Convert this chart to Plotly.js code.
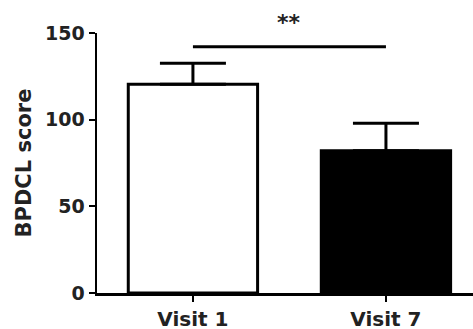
<!DOCTYPE html>
<html>
<head>
<meta charset="utf-8">
<script src="https://cdn.plot.ly/plotly-3.0.1.min.js"></script>
<style>html,body{margin:0;padding:0;background:#fff;}#chart{width:473px;height:329px;}</style>
</head>
<body>
<div id="chart"></div>
<script>
const categories = ['Visit 1', 'Visit 7'];
const means = [120.5, 82];
const sdUpper = [12, 16];
const barColors = ['#ffffff', '#000000'];
const sigPair = ['Visit 1', 'Visit 7'];
const sigY = 142;
const sigLabel = '**';
const yTicks = [0, 50, 100, 150];

const FONT = 'DejaVu Sans, Arial, sans-serif';

const trace = {
  type: 'bar',
  x: categories,
  y: means,
  width: 0.67,
  marker: {color: barColors, line: {color: '#000', width: 3}},
  error_y: {type: 'data', symmetric: false, array: sdUpper, arrayminus: [0, 0],
            color: '#000', thickness: 3, width: 33},
  hoverinfo: 'none'
};

const layout = {
  width: 473, height: 329,
  margin: {l: 97, r: 0, t: 33, b: 36},
  paper_bgcolor: '#fff', plot_bgcolor: '#fff',
  showlegend: false,
  xaxis: {
    type: 'category', range: [-0.497, 1.451],
    showline: true, linecolor: '#000', linewidth: 2.5,
    ticks: 'outside', ticklen: 6, tickwidth: 2, tickcolor: '#000',
    showgrid: false, zeroline: false,
    tickfont: {family: FONT, size: 20, color: '#222', weight: 'bold'}
  },
  yaxis: {
    range: [0, 150], tickvals: yTicks,
    showline: true, linecolor: '#000', linewidth: 2.5,
    ticks: 'outside', ticklen: 6, tickwidth: 2, tickcolor: '#000',
    showgrid: false, zeroline: false,
    tickfont: {family: FONT, size: 19, color: '#222', weight: 'bold'},
    title: {text: 'BPDCL score', standoff: 8, font: {family: FONT, size: 21, color: '#222', weight: 'bold'}}
  },
  shapes: [{
    type: 'line', xref: 'x', yref: 'y',
    x0: sigPair[0], x1: sigPair[1], y0: sigY, y1: sigY,
    line: {color: '#000', width: 3}
  }],
  annotations: [{
    xref: 'x', yref: 'paper', x: 0.5, y: 1.04, yanchor: 'middle',
    text: sigLabel, showarrow: false,
    font: {family: FONT, size: 22, color: '#222', weight: 'bold'}
  }]
};

Plotly.newPlot('chart', [trace], layout, {displayModeBar: false, staticPlot: true});
</script>
</body>
</html>
